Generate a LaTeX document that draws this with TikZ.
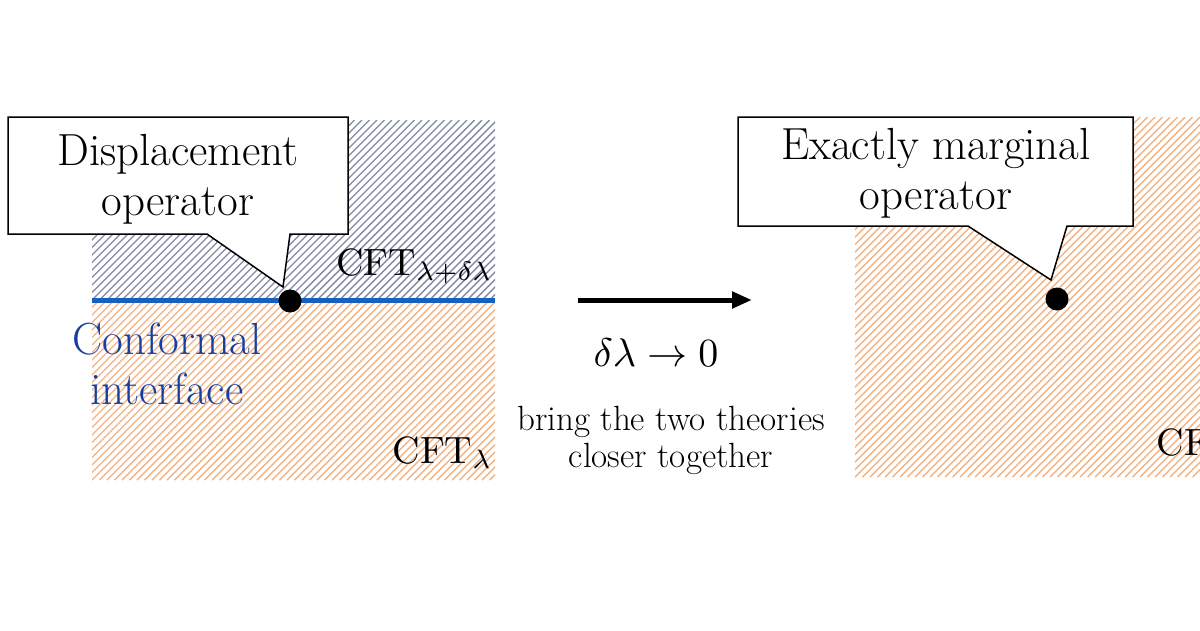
\documentclass[tikz,border=0pt]{standalone}
\usepackage{amsmath}
\usepackage{amssymb}
\usetikzlibrary{positioning,arrows.meta}
\definecolor{hatchgray}{RGB}{128,138,165}
\definecolor{hatchorange}{RGB}{244,178,130}
\definecolor{ifaceblue}{RGB}{25,95,190}
\definecolor{textblue}{RGB}{22,62,160}

\begin{document}
\begin{tikzpicture}[x=1pt,y=-1pt,
	grayhatch/.style={draw=hatchgray,line width=1.4pt},
	orangehatch/.style={draw=hatchorange,line width=1.4pt},
	calloutbox/.style={draw=black,fill=white,line width=1.5pt,line join=miter},
	bigtext/.style={font=\fontsize{45}{50}\selectfont,align=center},
	smalltext/.style={font=\fontsize{35}{37}\selectfont,align=center},
	cftlabel/.style={scale=3.8,inner sep=0pt},
	opdot/.style={circle,fill=black,minimum size=23pt,inner sep=0pt}]
	\useasboundingbox (0,0) rectangle (1200,630);
	\begin{scope}
		\clip (92,120) rectangle (495,300);
		\foreach \i in {0,...,80}
			\draw[grayhatch] (-88+7.5*\i,300) -- ++(180,-180);
	\end{scope}
	\begin{scope}
		\clip (92,300) rectangle (495,480);
		\foreach \i in {0,...,80}
			\draw[orangehatch] (-88+7.5*\i,480) -- ++(180,-180);
	\end{scope}
	\begin{scope}
		\clip (855,117) rectangle (1200,477);
		\foreach \i in {0,...,95}
			\draw[orangehatch] (495+7.5*\i,477) -- ++(360,-360);
	\end{scope}
	\coordinate (ifleft) at (92,300);
	\coordinate (ifright) at (495,300);
	\draw[ifaceblue,line width=5pt] (ifleft) -- (ifright);
	\draw[calloutbox] (8,117) -- (348,117) -- (348,234) -- (290,234) -- (283,287) -- (207,234) -- (8,234) -- cycle;
	\draw[calloutbox] (738,117) -- (1133,117) -- (1133,226) -- (1067,226) -- (1051,280) -- (968,226) -- (738,226) -- cycle;
	\node[opdot] (dispdot) at (290,301) {};
	\node[opdot] (margdot) at (1057,299) {};
	\node[bigtext] (disptext) at (178,179) {Displacement\\operator};
	\node[bigtext] (margtext) at (936,173) {Exactly marginal\\operator};
	\node[bigtext,text=textblue] (ifacetext) at (167,364) {Conformal\\interface};
	\node[cftlabel,anchor=base east] (cftup) at (493,275) {CFT$_{\lambda+\delta\lambda}$};
	\node[cftlabel,anchor=base east] (cftdown) at (493,463) {CFT$_{\lambda}$};
	\node[cftlabel,anchor=base west] (cftright) at (1156,455) {CFT$_{\lambda}$};
	\coordinate (arrowstart) at (578,300);
	\coordinate (arrowend) at (752,300);
	\draw[-{Triangle[length=20pt,width=16pt]},line width=5pt] (arrowstart) -- (arrowend);
	\node[scale=4] (limit) at (656,353) {$\delta\lambda \to 0$};
	\node[smalltext] (bring) at (671,440) {bring the two theories\\closer together};
\end{tikzpicture}
\end{document}
